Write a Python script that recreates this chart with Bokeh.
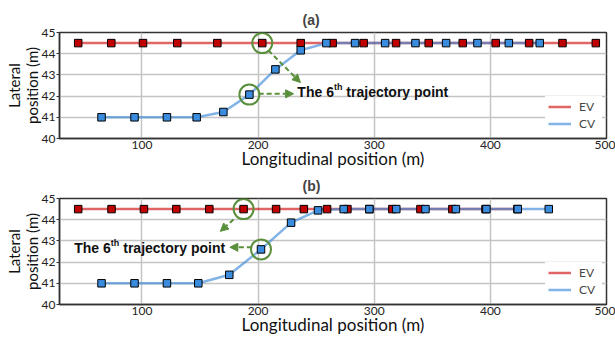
from bokeh.plotting import figure
from bokeh.layouts import column
from bokeh.models import (Range1d, FixedTicker, Legend, LegendItem, Arrow, NormalHead)
from bokeh.core.properties import value
from bokeh.embed import file_html
from bokeh.resources import INLINE

# ---------------- data ----------------
x_ticks = [100, 200, 300, 400, 500]
y_ticks = [40, 41, 42, 43, 44, 45]

ev_x_a = [45.1, 73.6, 100.9, 130.4, 164.9, 203.6, 236.7, 264.2, 290.9, 318.8, 346.9, 376.2, 404.6, 433.4, 462.1, 490.8]
ev_y_a = [44.5, 44.5, 44.5, 44.5, 44.5, 44.5, 44.5, 44.5, 44.5, 44.5, 44.5, 44.5, 44.5, 44.5, 44.5, 44.5]
cv_x_a = [65.2, 93.6, 121.5, 147.1, 170.1, 192.5, 214.9, 236.7, 258.8, 283.5, 309.4, 335.5, 361.9, 388.9, 415.9, 442.5]
cv_y_a = [41.0, 41.0, 41.0, 41.0, 41.25, 42.07, 43.26, 44.16, 44.5, 44.5, 44.5, 44.5, 44.5, 44.5, 44.5, 44.5]

ev_x_b = [45.1, 73.8, 101.7, 129.6, 158.0, 187.5, 215.5, 239.4, 259.4, 276.9, 295.8, 315.6, 339.8, 367.3, 395.8, 423.3]
ev_y_b = [44.5, 44.5, 44.5, 44.5, 44.5, 44.5, 44.5, 44.5, 44.5, 44.5, 44.5, 44.5, 44.5, 44.5, 44.5, 44.5]
cv_x_b = [65.2, 93.6, 121.5, 148.5, 175.2, 202.5, 228.4, 251.6, 273.7, 295.8, 319.0, 344.1, 370.3, 396.6, 423.6, 450.3]
cv_y_b = [41.0, 41.0, 41.0, 41.0, 41.4, 42.6, 43.86, 44.44, 44.5, 44.5, 44.5, 44.5, 44.5, 44.5, 44.5, 44.5]

highlight_index = 5  # the 6th trajectory point

# annotation arrows: (x_start, y_start, x_end, y_end)
arrows_a = [(208.8, 44.16, 236.4, 42.64), (200.5, 42.11, 230.6, 42.11)]
arrows_b = [(178.9, 44.01, 167.5, 43.45), (194.6, 42.70, 175.7, 42.70)]
note_a = (233.8, 42.17)
note_b = (41.7, 42.67)

# ---------------- styles ----------------
FONT = "Lato"
GREEN = "#5a8f3c"
EV_LINE, CV_LINE = "#cc0000", "#3f8ad8"
EV_FILL, CV_FILL = "#c00000", "#3a8dde"


def make_panel(title, ev_x, ev_y, cv_x, cv_y, arrows, note, top, bottom):
    p = figure(frame_width=547, frame_height=106, min_border_left=59, min_border_right=9,
               min_border_top=top, min_border_bottom=bottom,
               x_range=Range1d(29, 500), y_range=Range1d(40, 45),
               output_backend="svg", toolbar_location=None, title=title)
    p.title.align = "left"
    p.title.offset = 243
    p.title.text_font = "Liberation Sans"
    p.title.text_font_style = "bold"
    p.title.text_font_size = "14px"
    p.title.standoff = 9

    p.outline_line_color = "#333333"
    p.outline_line_width = 1.5
    p.background_fill_color = "white"
    p.border_fill_color = "white"

    p.xaxis.ticker = FixedTicker(ticks=x_ticks)
    p.yaxis.ticker = FixedTicker(ticks=y_ticks)
    p.xaxis.axis_label = "Longitudinal position (m)"
    p.yaxis.axis_label = "Lateral\nposition (m)"
    for ax in (p.xaxis[0], p.yaxis[0]):
        ax.axis_line_color = "#333333"
        ax.axis_line_width = 1.5
        ax.major_tick_line_color = "#333333"
        ax.minor_tick_line_color = None
        ax.major_tick_in = 0
        ax.major_label_text_font = FONT
        ax.major_label_text_font_size = "12px"
        ax.major_label_text_color = "#222222"
        ax.axis_label_text_font = FONT
        ax.axis_label_text_font_style = "normal"
        ax.axis_label_text_color = "#111111"
    p.xaxis.major_tick_out = 0
    p.xaxis.major_label_standoff = 2
    p.xaxis.axis_label_standoff = -4
    p.xaxis.axis_label_text_font_size = "17px"
    p.yaxis.major_tick_out = 3
    p.yaxis.major_label_standoff = 1
    p.yaxis.axis_label_standoff = -2
    p.yaxis.axis_label_text_font_size = "15px"
    p.yaxis.axis_label_text_line_height = 1.0

    p.grid.grid_line_color = "#c4c4c4"
    p.grid.grid_line_width = 1.5

    ev_line = p.line(ev_x, ev_y, line_color=EV_LINE, line_alpha=0.6, line_width=2.5)
    cv_line = p.line(cv_x, cv_y, line_color=CV_LINE, line_alpha=0.65, line_width=2.5)
    p.scatter(ev_x, ev_y, marker="square", size=7.5, fill_color=EV_FILL,
              line_color="black", line_width=1)
    p.scatter(cv_x, cv_y, marker="square", size=7.5, fill_color=CV_FILL,
              line_color="black", line_width=1)

    # highlight circles around the 6th trajectory point
    p.scatter([ev_x[highlight_index], cv_x[highlight_index]],
              [ev_y[highlight_index], cv_y[highlight_index]],
              marker="circle", size=20, fill_color=None, line_color=GREEN, line_width=2)

    for (x0, y0, x1, y1) in arrows:
        p.add_layout(Arrow(x_start=x0, y_start=y0, x_end=x1, y_end=y1,
                           line_color=GREEN, line_width=2, line_dash="5 3",
                           end=NormalHead(size=8, fill_color=GREEN, line_color=GREEN)))

    nx, ny = note
    common = dict(text_font=value("Liberation Sans"), text_font_style="bold",
                  text_color="#111111", text_align="left", text_baseline="middle")
    p.text([nx], [ny], text=["The 6"], text_font_size="14px", **common)
    p.text([nx], [ny], text=["th"], text_font_size="9px", x_offset=36.6, y_offset=-5, **common)
    p.text([nx], [ny], text=["trajectory point"], text_font_size="14px", x_offset=49, **common)

    legend = Legend(items=[LegendItem(label="EV", renderers=[ev_line]),
                           LegendItem(label="CV", renderers=[cv_line])],
                    location="bottom_right", border_line_alpha=0,
                    background_fill_color="white", background_fill_alpha=1,
                    glyph_width=23, glyph_height=15, label_text_font=FONT,
                    label_text_font_size="12px", label_standoff=8, spacing=2,
                    padding=3, margin=4)
    p.add_layout(legend)
    return p


pa = make_panel("(a)", ev_x_a, ev_y_a, cv_x_a, cv_y_a, arrows_a, note_a, 32, 32)
pb = make_panel("(b)", ev_x_b, ev_y_b, cv_x_b, cv_y_b, arrows_b, note_b, 27, 32)

layout = column(pa, pb, spacing=0)
open("out.html", "w").write(file_html(layout, INLINE))
